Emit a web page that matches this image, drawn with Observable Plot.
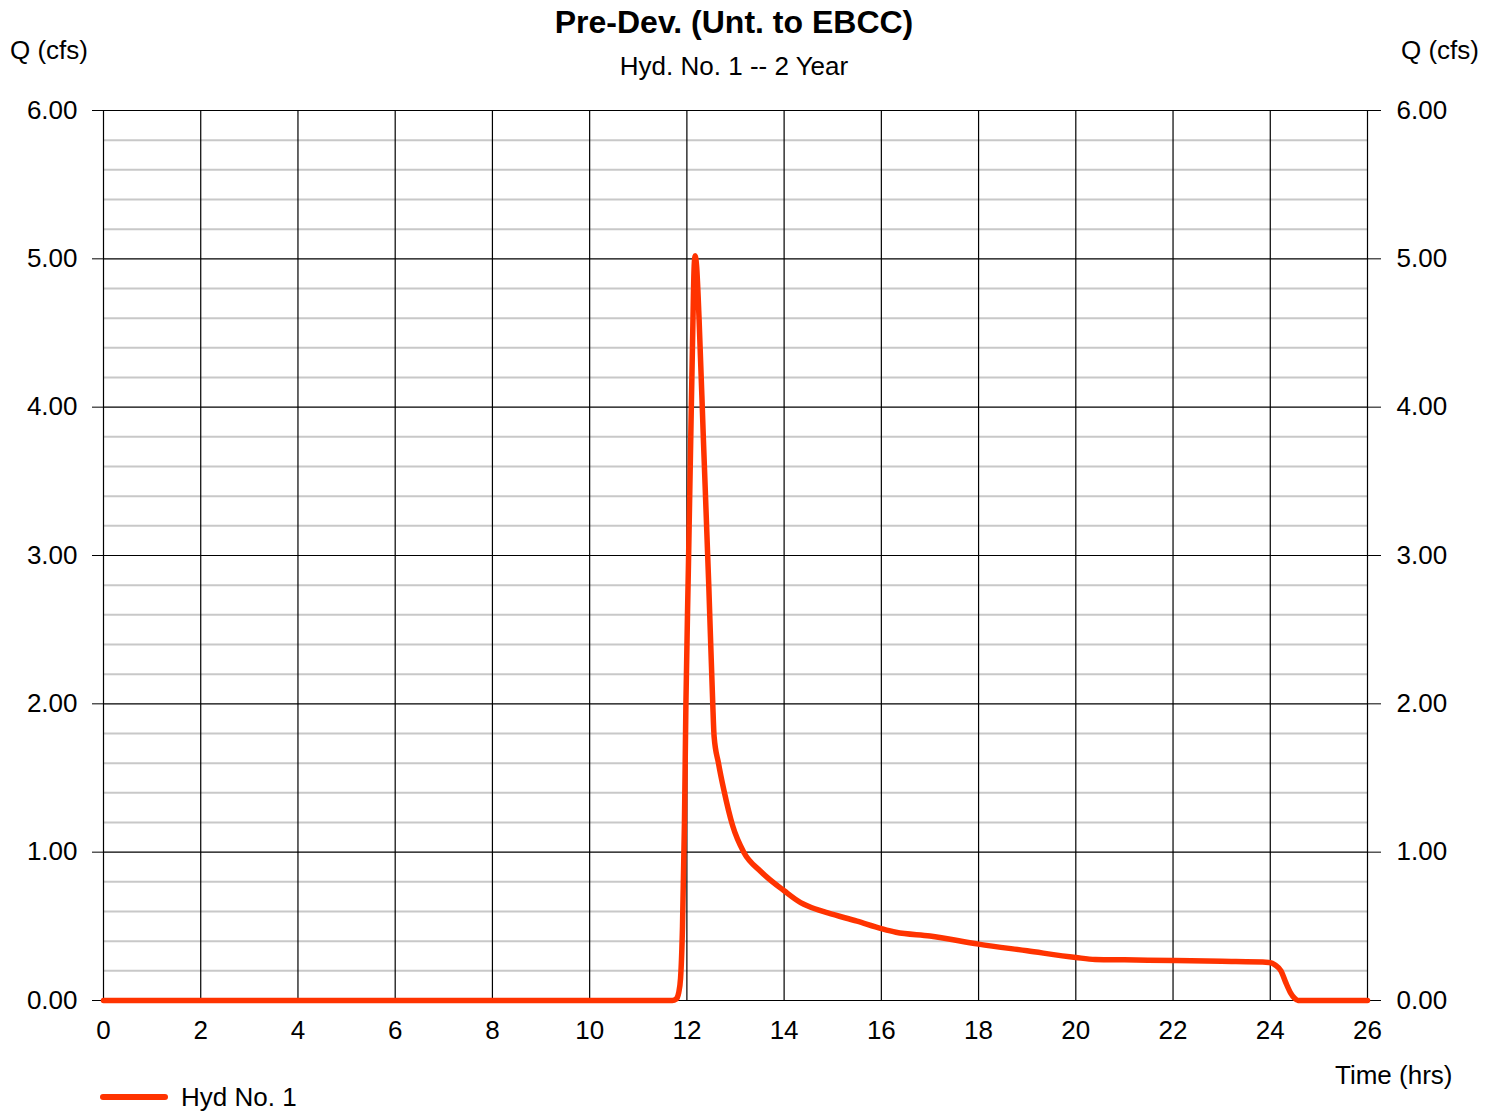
<!DOCTYPE html>
<html>
<head>
<meta charset="utf-8">
<script src="https://cdn.jsdelivr.net/npm/d3@7"></script>
<script src="https://cdn.jsdelivr.net/npm/@observablehq/plot@0.6"></script>
<style>
  body { margin: 0; background: white; font-family: "Liberation Sans", Arial, sans-serif; color: black; }
  #wrap { width: 1494px; }
  #header { position: relative; width: 1494px; height: 88px; }
  #header div { position: absolute; white-space: nowrap; }
  #title { left: 0; width: 1468px; text-align: center; top: 5px; font-size: 32px; font-weight: bold; line-height: 34px; }
  #subtitle { left: 0; width: 1468px; text-align: center; top: 52px; font-size: 26px; line-height: 28px; }
  #qleft { left: 10px; top: 36px; font-size: 26px; line-height: 28px; }
  #qright { left: 1401px; top: 36px; font-size: 26px; line-height: 28px; }
  #legend { position: relative; width: 1494px; height: 32px; }
  #swatch { position: absolute; left: 100px; top: 14px; width: 68px; height: 6px; background: #ff3300; border-radius: 3px; }
  #legtext { position: absolute; left: 181px; top: 3px; font-size: 26px; line-height: 28px; }
</style>
</head>
<body>
<div id="wrap">
  <div id="header">
    <div id="title">Pre-Dev. (Unt. to EBCC)</div>
    <div id="subtitle">Hyd. No. 1 -- 2 Year</div>
    <div id="qleft">Q (cfs)</div>
    <div id="qright">Q (cfs)</div>
  </div>
  <div id="chart"></div>
  <div id="legend"><div id="swatch"></div><div id="legtext">Hyd No. 1</div></div>
</div>
<script>
const seriesName = "Hyd No. 1";
const timeHrs = [0, 11.7, 11.78, 11.83, 11.87, 11.91, 11.95, 11.98, 12.03, 12.08, 12.12, 12.15, 12.17, 12.2, 12.25, 12.34, 12.45, 12.53, 12.56, 12.65, 12.76, 12.94, 13.17, 13.52, 14.0, 14.34, 14.5, 14.9, 15.5, 16.0, 16.3, 17.0, 18.0, 19.0, 20.0, 20.4, 21.0, 22.0, 23.0, 23.97, 24.1, 24.22, 24.32, 24.42, 24.5, 24.57, 26];
const flowCfs = [0, 0, 0.01, 0.05, 0.15, 0.5, 1.2, 2.0, 2.9, 3.8, 4.5, 4.95, 5.02, 4.95, 4.6, 3.78, 2.8, 2.02, 1.78, 1.6, 1.42, 1.18, 1.0, 0.87, 0.74, 0.66, 0.635, 0.59, 0.535, 0.485, 0.46, 0.435, 0.38, 0.335, 0.29, 0.277, 0.274, 0.27, 0.264, 0.257, 0.24, 0.2, 0.12, 0.05, 0.015, 0, 0];
const xTicks = [0, 2, 4, 6, 8, 10, 12, 14, 16, 18, 20, 22, 24, 26];
const yTicks = [0, 1, 2, 3, 4, 5, 6];
const yMinorTicks = [0.2, 0.4, 0.6, 0.8, 1.2, 1.4, 1.6, 1.8, 2.2, 2.4, 2.6, 2.8, 3.2, 3.4, 3.6, 3.8, 4.2, 4.4, 4.6, 4.8, 5.2, 5.4, 5.6, 5.8];

const data = timeHrs.map((t, i) => ({t, q: flowCfs[i], series: seriesName}));

const chart = Plot.plot({
  width: 1494,
  height: 992,
  marginLeft: 103,
  marginRight: 127,
  marginTop: 22,
  marginBottom: 80,
  style: { fontFamily: "'Liberation Sans', Arial, sans-serif", fontSize: "26px", color: "black", background: "white", overflow: "visible" },
  x: { domain: [0, 26] },
  y: { domain: [0, 6] },
  marks: [
    Plot.ruleY(yMinorTicks, { stroke: "#c8c8c8", strokeWidth: 2 }),
    Plot.ruleX(xTicks, { stroke: "black", strokeWidth: 1.2 }),
    Plot.ruleY(yTicks, { stroke: "black", strokeWidth: 1.2 }),
    Plot.axisY({ anchor: "left", ticks: yTicks, tickFormat: d3.format(".2f"), tickSize: 11, tickPadding: 15, label: null, stroke: "black", strokeOpacity: 1 }),
    Plot.axisY({ anchor: "right", ticks: yTicks, tickFormat: d3.format(".2f"), tickSize: 13, tickPadding: 16, label: null, stroke: "black", strokeOpacity: 1 }),
    Plot.axisX({ ticks: xTicks, tickFormat: d => String(d), tickSize: 0, tickPadding: 20, label: null }),
    Plot.text(["Time (hrs)"], { frameAnchor: "bottom-right", dx: 85, dy: 75, textAnchor: "end", lineAnchor: "middle", fontSize: 26 }),
    Plot.line(data, { x: "t", y: "q", stroke: "#ff3300", strokeWidth: 5.5, curve: "monotone-x", strokeLinejoin: "round", strokeLinecap: "round" })
  ]
});
document.getElementById("chart").appendChild(chart);
</script>
</body>
</html>
